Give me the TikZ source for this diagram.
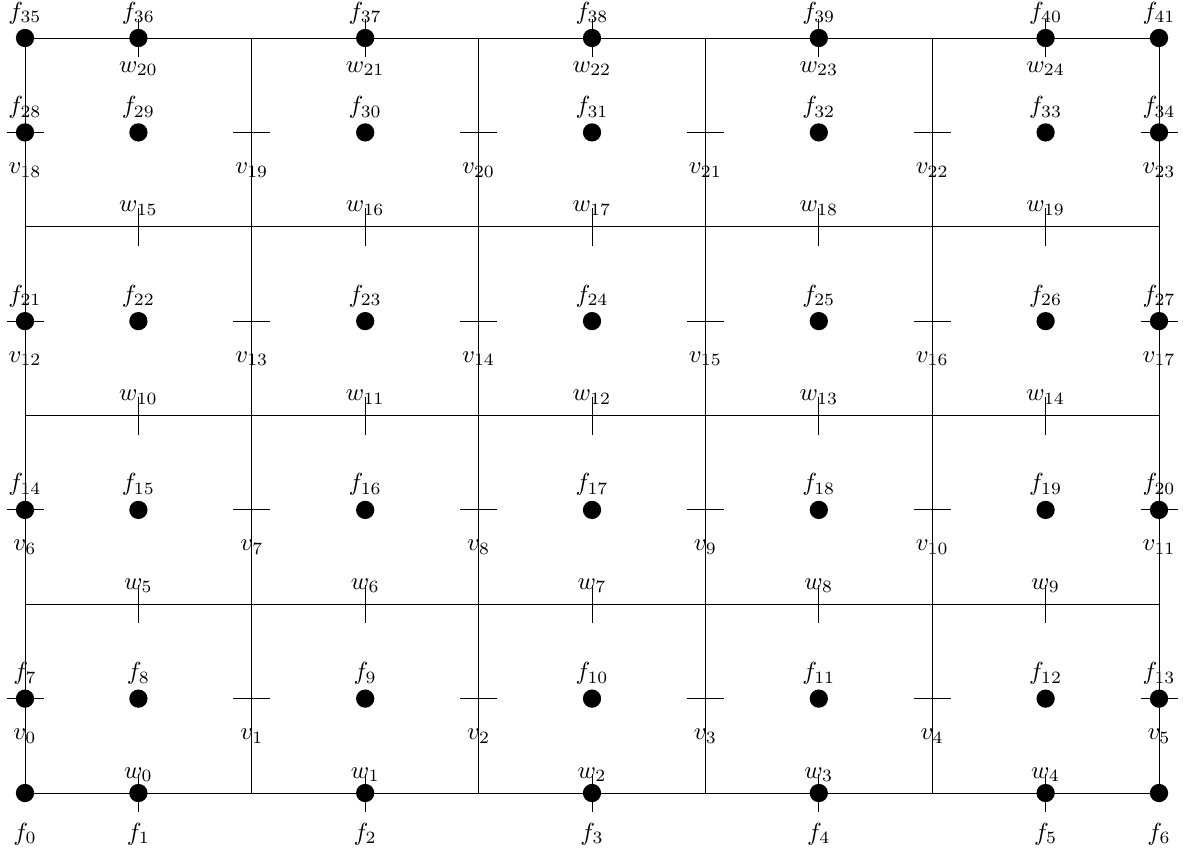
\documentclass[tikz,border=0pt]{standalone}
\begin{document}
\begin{tikzpicture}[x=0.405pt,y=-0.405pt,
  dot/.style={circle,fill=black,inner sep=0pt,minimum size=7.4pt},
  lbl/.style={anchor=base,inner sep=0pt},
  gridline/.style={line width=0.4pt},
  tickmark/.style={line width=0.4pt}]
\useasboundingbox (0,0) rectangle (1183,854);
% grid corner coordinates
\foreach \x [count=\i from 0] in {25,251.8,478.6,705.4,932.2,1159} {
  \foreach \y [count=\j from 0] in {793,604.25,415.5,226.75,38} {
    \coordinate (g-\i-\j) at (\x,\y);
  }
}
\foreach \i in {0,...,5} \draw[gridline] (g-\i-0) -- (g-\i-4);
\foreach \j in {0,...,4} \draw[gridline] (g-0-\j) -- (g-5-\j);
% v ticks and labels
\foreach \y [count=\r from 0] in {698.6,509.9,321.1,132.4} {
  \foreach \x [count=\i from 0] in {25,251.8,478.6,705.4,932.2,1159} {
    \pgfmathtruncatemacro\n{6*\r+\i}
    \coordinate (vl\n) at ({\x-18.5},\y);
    \coordinate (vr\n) at ({\x+18.5},\y);
    \draw[tickmark] (vl\n) -- (vr\n);
    \node[lbl] (vt\n) at (\x,{\y+41}) {$v_{\n}$};
  }
}
% w ticks and labels
\foreach \y [count=\j from 0] in {793,604.25,415.5,226.75,38} {
  \foreach \x [count=\k from 0] in {138.4,365.2,592,818.8,1045.6} {
    \pgfmathtruncatemacro\n{5*\j+\k}
    \coordinate (wu\n) at (\x,{\y-19});
    \coordinate (wd\n) at (\x,{\y+19});
    \draw[tickmark] (wu\n) -- (wd\n);
    \ifnum\j=4
      \node[lbl] (wt\n) at (\x,{\y+34}) {$w_{\n}$};
    \else
      \node[lbl] (wt\n) at (\x,{\y-15}) {$w_{\n}$};
    \fi
  }
}
% f dots and labels
\foreach \y [count=\r from 0] in {793,698.6,509.9,321.1,132.4,38} {
  \foreach \x [count=\c from 0] in {25,138.4,365.2,592,818.8,1045.6,1159} {
    \pgfmathtruncatemacro\n{7*\r+\c}
    \node[dot] (f\n) at (\x,\y) {};
    \ifnum\r=0
      \node[lbl] (ft\n) at (\x,{\y+47}) {$f_{\n}$};
    \else
      \node[lbl] (ft\n) at (\x,{\y-19}) {$f_{\n}$};
    \fi
  }
}
\end{tikzpicture}
\end{document}
